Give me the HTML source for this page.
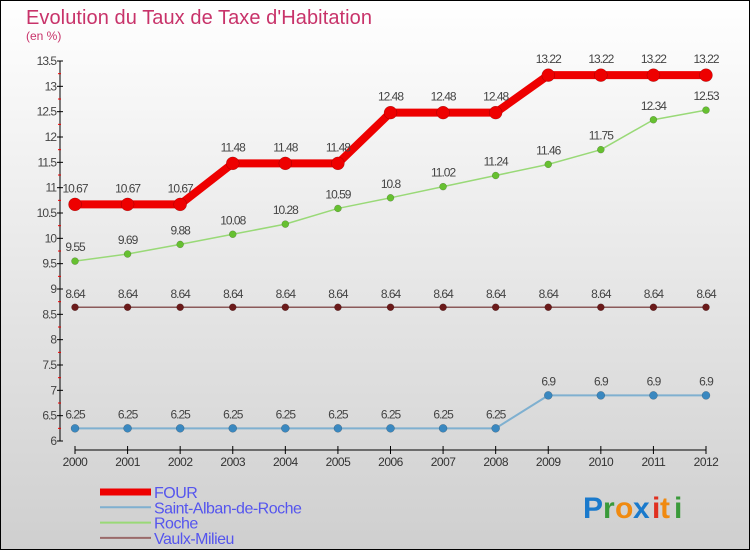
<!DOCTYPE html>
<html><head><meta charset="utf-8"><style>
html,body{margin:0;padding:0}
body{width:750px;height:550px;overflow:hidden;font-family:"Liberation Sans",sans-serif}
</style></head><body>
<svg id="chart" width="750" height="550" xmlns="http://www.w3.org/2000/svg">
<defs><linearGradient id="bg" x1="0" y1="0" x2="0" y2="1"><stop offset="0" stop-color="#ffffff"/><stop offset="1" stop-color="#cfcfcf"/></linearGradient></defs>
<rect x="0.5" y="0.5" width="749" height="549" fill="url(#bg)" stroke="#000"/>
<text x="26" y="24" font-size="20" fill="#c8336a" textLength="346">Evolution du Taux de Taxe d'Habitation</text>
<text x="26" y="40" font-size="12" fill="#c8336a">(en %)</text>
<g id="axes"></g><g id="series"></g><g id="legend"></g>
<g font-size="30" font-weight="bold" font-family="'Liberation Sans',sans-serif">
<text x="583" y="518" fill="#1a7acc">P</text><text x="603" y="518" fill="#3a9a3a">r</text><text x="615" y="518" fill="#f08a10">o</text><text x="633" y="518" fill="#1a7acc">x</text><text x="652" y="518" fill="#e03020">i</text><text x="660" y="518" fill="#f08a10">t</text><text x="674" y="518" fill="#3a9a3a">i</text>
</g>
</svg>
<script>
const years=[2000,2001,2002,2003,2004,2005,2006,2007,2008,2009,2010,2011,2012];
const four=[10.67,10.67,10.67,11.48,11.48,11.48,12.48,12.48,12.48,13.22,13.22,13.22,13.22];
const stAlban=[6.25,6.25,6.25,6.25,6.25,6.25,6.25,6.25,6.25,6.9,6.9,6.9,6.9];
const roche=[9.55,9.69,9.88,10.08,10.28,10.59,10.8,11.02,11.24,11.46,11.75,12.34,12.53];
const vaulx=[8.64,8.64,8.64,8.64,8.64,8.64,8.64,8.64,8.64,8.64,8.64,8.64,8.64];
const yTicks=[6,6.5,7,7.5,8,8.5,9,9.5,10,10.5,11,11.5,12,12.5,13,13.5];
const NS="http://www.w3.org/2000/svg";
const xS=i=>75+i*(706-75)/(years.length-1);
const yS=v=>441-(v-6)*(441-61)/7.5;
function mk(tag,attrs,parent,txt){const e=document.createElementNS(NS,tag);for(const k in attrs)e.setAttribute(k,attrs[k]);if(txt!==undefined)e.textContent=txt;parent.appendChild(e);return e;}
const axes=document.getElementById('axes');
let a=mk('line',{x1:60,y1:61,x2:60,y2:441,stroke:'#000'},axes);


a=mk('line',{x1:75,y1:450,x2:706,y2:450,stroke:'#000'},axes);


yTicks.forEach(v=>{const y=yS(v);mk('line',{x1:57,y1:y,x2:63,y2:y,stroke:'#000'},axes);
 const t=mk('text',{x:56,y:y+4,'font-size':12,fill:'#444','text-anchor':'end','letter-spacing':'-1'},axes,String(v));
 
 
 if(v<13.5)mk('line',{x1:58,y1:y-25.3/2,x2:61,y2:y-25.3/2,stroke:'#e00'},axes);});
years.forEach((yr,i)=>{const x=xS(i);mk('line',{x1:x,y1:446,x2:x,y2:454,stroke:'#000'},axes);
 const t=mk('text',{x:x,y:466,'font-size':12,fill:'#333','text-anchor':'middle','letter-spacing':'-0.5'},axes,String(yr));
 
 });
const ser=document.getElementById('series');
function draw(vals,name,color,w,r,dot,labelOff){
 const g=mk('g',{},ser);
 
 
 mk('polyline',{points:vals.map((v,i)=>xS(i)+','+yS(v)).join(' '),fill:'none',stroke:color,'stroke-width':w,'stroke-linejoin':'round'},g);
 vals.forEach((v,i)=>{const c=mk('circle',{cx:xS(i),cy:yS(v),r:r,fill:dot,stroke:'rgba(0,0,0,0.3)','stroke-width':0.5},g);
  
  
  const t=mk('text',{x:xS(i),y:yS(v)-labelOff,'font-size':12,fill:'#444','text-anchor':'middle','letter-spacing':'-1'},g,String(v));
  
  });
}
draw(vaulx,'vaulx-milieu','#8b5a5a',1.5,3.5,'#6b1a1a',9);
draw(stAlban,'saint-alban-de-roche','#7fb0d0',2,4,'#3a88c0',10);
draw(roche,'roche','#99d977',1.5,3.5,'#66c030',10);
draw(four,'four','#ee0000',8,6.5,'#ee0000',12);
const lg=document.getElementById('legend');
[['FOUR','#ee0000',7],['Saint-Alban-de-Roche','#7fb0d0',2],['Roche','#99d977',2],['Vaulx-Milieu','#9a6a6a',2]].forEach((d,i)=>{
 const y=492+i*15.3;const g=mk('g',{},lg);
 
 
 mk('line',{x1:100,y1:y,x2:151,y2:y,stroke:d[1],'stroke-width':d[2]},g);
 mk('text',{x:154,y:y+6,'font-size':16,fill:'#5555ee','letter-spacing':'-0.5'},g,d[0]);});
</script>
</body></html>
